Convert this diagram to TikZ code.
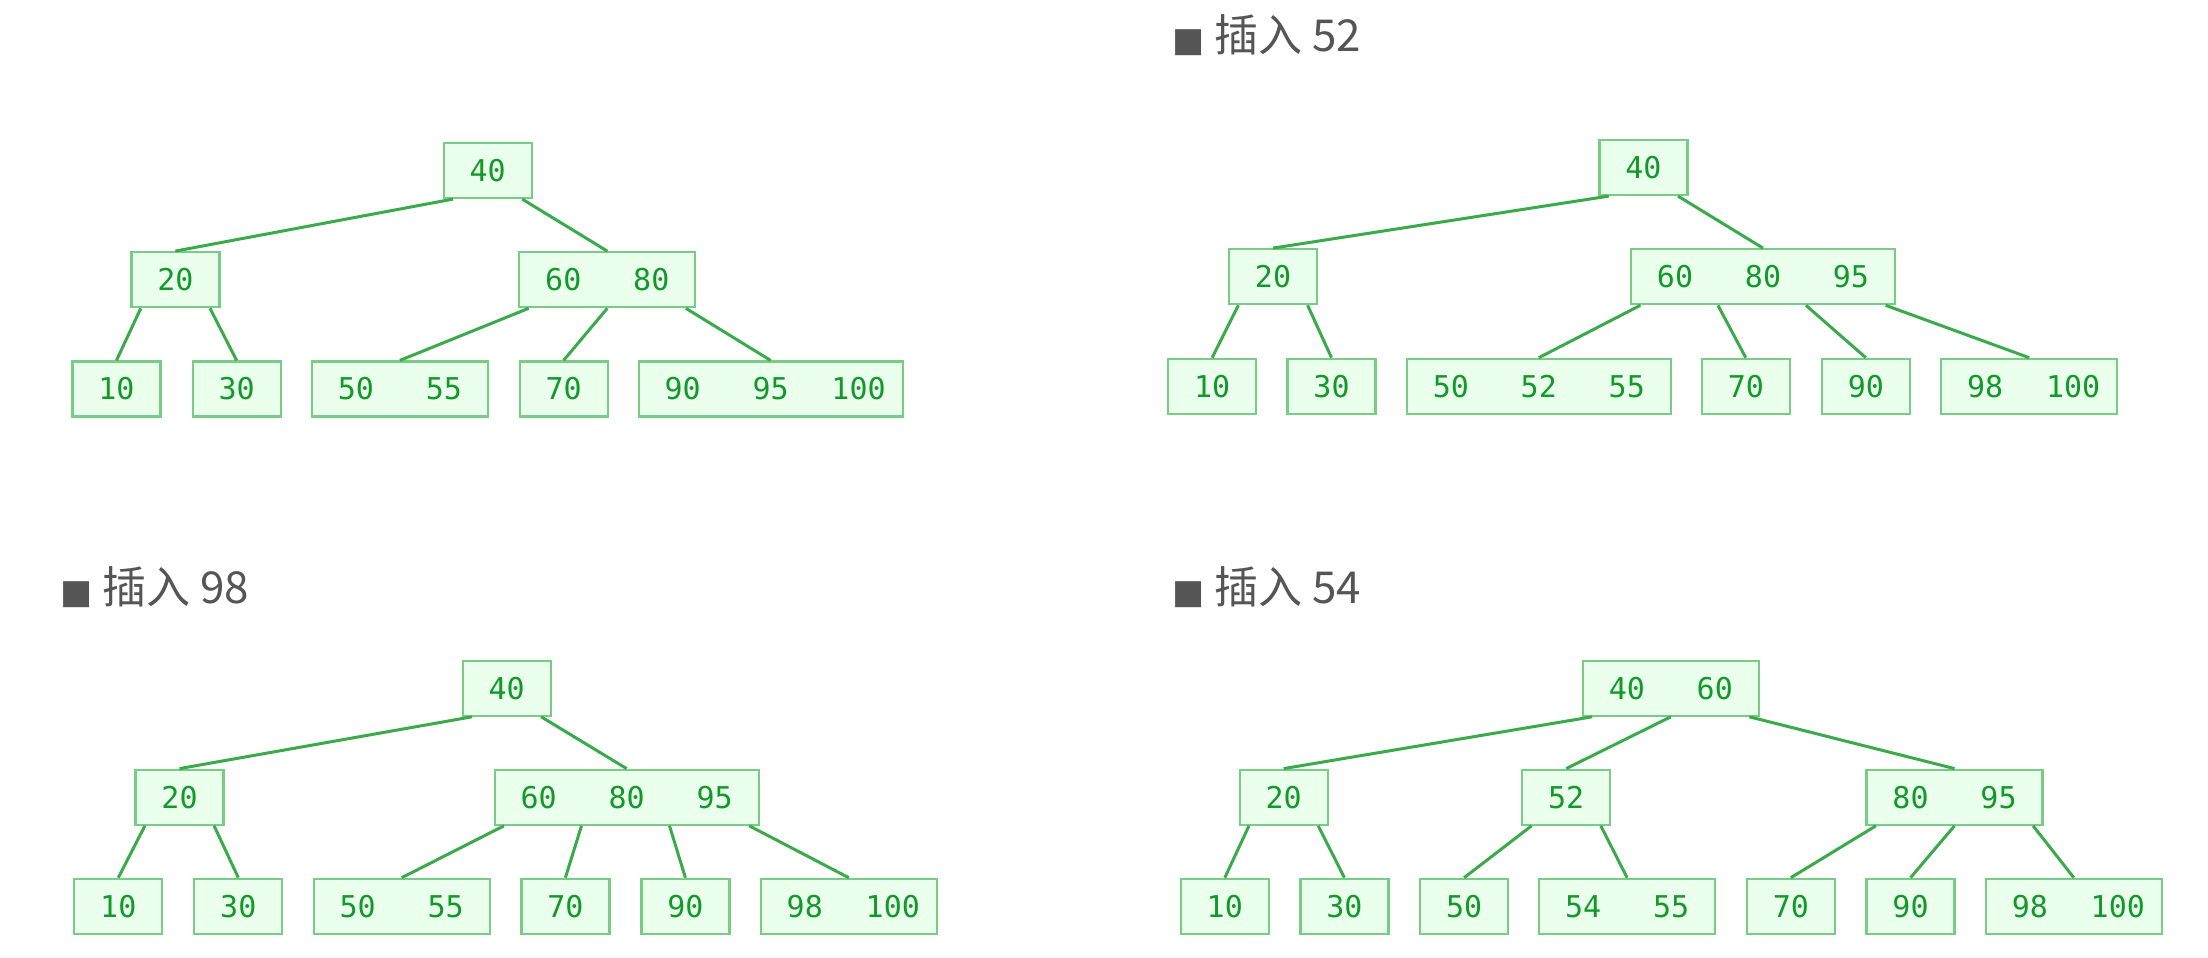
\documentclass[tikz,border=0pt]{standalone}
\usepackage{fontspec}
\usetikzlibrary{positioning, calc}
\newfontfamily\keyfont{DejaVu Sans Mono}
\newfontfamily\cjkfont{Noto Sans CJK SC}
\newfontfamily\boxfont{DejaVu Sans}
\definecolor{bborder}{HTML}{77CC86}
\definecolor{bfill}{HTML}{EAFFEC}
\definecolor{bkey}{HTML}{11992A}
\definecolor{bedge}{HTML}{3AAA4A}
\definecolor{btitle}{HTML}{555555}
% one key slot of a B-tree node
\newcommand{\kb}[1]{\makebox[44pt]{#1}}
\newcommand{\ttl}[1]{{\boxfont\fontsize{17pt}{17pt}\selectfont ■}\hspace{5pt}插入 #1}

\begin{document}
\begin{tikzpicture}[x=0.5pt, y=-0.5pt,
    bnode/.style = {draw=bborder, fill=bfill, line width=1.1pt, inner sep=0pt, minimum height=27.5pt, font=\keyfont\fontsize{15pt}{15pt}\selectfont, text=bkey},
    link/.style = {draw=bedge, line width=1.5pt},
    title/.style = {anchor=base west, inner sep=0pt, text=btitle, font=\cjkfont\fontsize{22pt}{22pt}\selectfont}]
    \useasboundingbox[fill=white] (0,0) rectangle (2208,958);

    % titles
    \node[title] (tb) at (1172,51.7) {\ttl{52}};
    \node[title] (tc) at (60,603.3) {\ttl{98}};
    \node[title] (td) at (1172,603.3) {\ttl{54}};

    % tree a
    \node[bnode] (a40) at (487.6,170.5) {\kb{40}};
    \node[bnode] (a20) at (175.4,279.7) {\kb{20}};
    \node[bnode] (a6080) at (607.3,279.7) {\kb{60}\kb{80}};
    \node[bnode] (a10) at (116.5,389) {\kb{10}};
    \node[bnode] (a30) at (236.6,389) {\kb{30}};
    \node[bnode] (a5055) at (399.9,389) {\kb{50}\kb{55}};
    \node[bnode] (a70) at (563.6,389) {\kb{70}};
    \node[bnode] (a9095) at (770.6,389) {\kb{90}\kb{95}\kb{100}};
    \draw[link] ([xshift=5.25pt]a40.south west) -- (a20.north);
    \draw[link] ([xshift=-5.25pt]a40.south east) -- (a6080.north);
    \draw[link] ([xshift=5.25pt]a20.south west) -- (a10.north);
    \draw[link] ([xshift=-5.25pt]a20.south east) -- (a30.north);
    \draw[link] ([xshift=5.25pt]a6080.south west) -- (a5055.north);
    \draw[link] (a6080.south) -- (a70.north);
    \draw[link] ([xshift=-5.25pt]a6080.south east) -- (a9095.north);

    % tree b
    \node[bnode] (b40) at (1643.4,167.5) {\kb{40}};
    \node[bnode] (b20) at (1273,276.7) {\kb{20}};
    \node[bnode] (b608095) at (1763,276.7) {\kb{60}\kb{80}\kb{95}};
    \node[bnode] (b10) at (1212.1,386.3) {\kb{10}};
    \node[bnode] (b30) at (1331.5,386.3) {\kb{30}};
    \node[bnode] (b505255) at (1538.8,386.3) {\kb{50}\kb{52}\kb{55}};
    \node[bnode] (b70) at (1745.8,386.3) {\kb{70}};
    \node[bnode] (b90) at (1865.8,386.3) {\kb{90}};
    \node[bnode] (b98100) at (2029.2,386.3) {\kb{98}\kb{100}};
    \draw[link] ([xshift=5.25pt]b40.south west) -- (b20.north);
    \draw[link] ([xshift=-5.25pt]b40.south east) -- (b608095.north);
    \draw[link] ([xshift=5.25pt]b20.south west) -- (b10.north);
    \draw[link] ([xshift=-5.25pt]b20.south east) -- (b30.north);
    \draw[link] ([xshift=5.25pt]b608095.south west) -- (b505255.north);
    \draw[link] ([xshift=44pt]b608095.south west) -- (b70.north);
    \draw[link] ([xshift=88pt]b608095.south west) -- (b90.north);
    \draw[link] ([xshift=-5.25pt]b608095.south east) -- (b98100.north);

    % tree c
    \node[bnode] (c40) at (506.6,688.2) {\kb{40}};
    \node[bnode] (c20) at (179.5,797.2) {\kb{20}};
    \node[bnode] (c608095) at (626.6,797.2) {\kb{60}\kb{80}\kb{95}};
    \node[bnode] (c10) at (118.3,906.3) {\kb{10}};
    \node[bnode] (c30) at (238.3,906.3) {\kb{30}};
    \node[bnode] (c5055) at (401.7,906.3) {\kb{50}\kb{55}};
    \node[bnode] (c70) at (565.4,906.3) {\kb{70}};
    \node[bnode] (c90) at (685.4,906.3) {\kb{90}};
    \node[bnode] (c98100) at (848.8,906.3) {\kb{98}\kb{100}};
    \draw[link] ([xshift=5.25pt]c40.south west) -- (c20.north);
    \draw[link] ([xshift=-5.25pt]c40.south east) -- (c608095.north);
    \draw[link] ([xshift=5.25pt]c20.south west) -- (c10.north);
    \draw[link] ([xshift=-5.25pt]c20.south east) -- (c30.north);
    \draw[link] ([xshift=5.25pt]c608095.south west) -- (c5055.north);
    \draw[link] ([xshift=44pt]c608095.south west) -- (c70.north);
    \draw[link] ([xshift=88pt]c608095.south west) -- (c90.north);
    \draw[link] ([xshift=-5.25pt]c608095.south east) -- (c98100.north);

    % tree d
    \node[bnode] (d4060) at (1670.8,688.2) {\kb{40}\kb{60}};
    \node[bnode] (d20) at (1283.6,797.2) {\kb{20}};
    \node[bnode] (d52) at (1566.2,797.2) {\kb{52}};
    \node[bnode] (d8095) at (1954.5,797.2) {\kb{80}\kb{95}};
    \node[bnode] (d10) at (1224.8,906.3) {\kb{10}};
    \node[bnode] (d30) at (1344.4,906.3) {\kb{30}};
    \node[bnode] (d50) at (1464.1,906.3) {\kb{50}};
    \node[bnode] (d5455) at (1627.1,906.3) {\kb{54}\kb{55}};
    \node[bnode] (d70) at (1790.8,906.3) {\kb{70}};
    \node[bnode] (d90) at (1910.5,906.3) {\kb{90}};
    \node[bnode] (d98100) at (2073.8,906.3) {\kb{98}\kb{100}};
    \draw[link] ([xshift=5.25pt]d4060.south west) -- (d20.north);
    \draw[link] (d4060.south) -- (d52.north);
    \draw[link] ([xshift=-5.25pt]d4060.south east) -- (d8095.north);
    \draw[link] ([xshift=5.25pt]d20.south west) -- (d10.north);
    \draw[link] ([xshift=-5.25pt]d20.south east) -- (d30.north);
    \draw[link] ([xshift=5.25pt]d52.south west) -- (d50.north);
    \draw[link] ([xshift=-5.25pt]d52.south east) -- (d5455.north);
    \draw[link] ([xshift=5.25pt]d8095.south west) -- (d70.north);
    \draw[link] (d8095.south) -- (d90.north);
    \draw[link] ([xshift=-5.25pt]d8095.south east) -- (d98100.north);
\end{tikzpicture}
\end{document}
